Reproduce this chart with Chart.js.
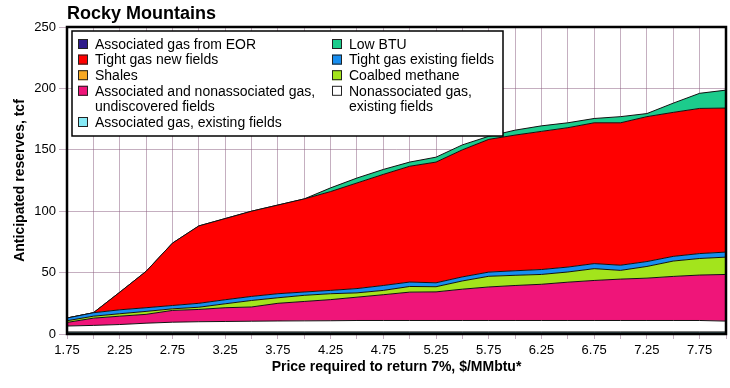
<!DOCTYPE html>
<html>
<head>
<meta charset="utf-8">
<script src="https://cdn.jsdelivr.net/npm/chart.js@4"></script>
<style>
  html, body { margin: 0; padding: 0; background: #fff; }
</style>
</head>
<body>
<canvas id="myChart" width="730" height="388"></canvas>
<script>
// price required to return 7%, $/MMbtu
const prices = [1.75, 2.00, 2.25, 2.50, 2.75, 3.00, 3.25, 3.50, 3.75, 4.00, 4.25, 4.50, 4.75,
                5.00, 5.25, 5.50, 5.75, 6.00, 6.25, 6.50, 6.75, 7.00, 7.25, 7.50, 7.75, 8.00];

// anticipated reserves (tcf) per source, listed bottom of the stack to top
const eor              = [0.5, 0.5, 0.5, 0.5, 0.5, 0.5, 0.5, 0.5, 0.5, 0.5, 0.5, 0.5, 0.5, 0.5, 0.5, 0.5, 0.5, 0.5, 0.5, 0.5, 0.5, 0.5, 0.5, 0.5, 0.5, 0.5];
const assocExisting    = [1.0, 1.0, 1.0, 1.0, 1.0, 1.0, 1.0, 1.0, 1.0, 1.0, 1.0, 1.0, 1.0, 1.0, 1.0, 1.0, 1.0, 1.0, 1.0, 1.0, 1.0, 1.0, 1.0, 1.0, 1.0, 1.0];
const shales           = [0, 0, 0, 0, 0, 0, 0, 0, 0, 0, 0, 0, 0, 0, 0, 0, 0, 0, 0, 0, 0, 0, 0, 0, 0, 0];
const nonassocExisting = [5.0, 5.5, 6.2, 7.3, 8.1, 8.5, 8.7, 8.9, 9.1, 9.2, 9.3, 9.5, 9.5, 9.5, 9.5, 9.5, 9.5, 9.5, 9.5, 9.5, 9.5, 9.5, 9.5, 9.5, 9.5, 9.0];
const undiscovered     = [2.9, 5.9, 6.8, 7.2, 9.6, 10.0, 11.2, 11.6, 14.4, 15.8, 17.2, 19.0, 21.0, 23.1, 23.3, 25.5, 27.3, 28.5, 29.5, 31.2, 32.6, 33.7, 34.5, 35.9, 37.0, 38.0];
const coalbed          = [1.4, 1.6, 2.0, 2.4, 1.3, 1.8, 3.2, 5.3, 4.5, 5.0, 4.8, 3.5, 3.5, 4.6, 4.2, 6.7, 8.7, 8.3, 8.0, 8.3, 9.6, 7.1, 9.5, 12.5, 13.5, 14.1];
const tightExisting    = [2.2, 2.8, 3.2, 3.0, 2.7, 3.2, 3.3, 3.3, 3.3, 2.7, 2.7, 3.5, 4.0, 3.6, 3.2, 3.3, 3.4, 3.7, 4.0, 4.0, 4.1, 4.2, 4.0, 3.8, 4.0, 4.1];
const tightNew         = [0, 0, 14.3, 29.6, 50.8, 63.0, 66.1, 69.4, 72.2, 75.8, 80.5, 86.0, 90.5, 94.3, 98.3, 103.5, 108.1, 110.5, 112.5, 113.5, 114.7, 116.0, 118.0, 117.3, 118.2, 117.3];
const lowBtu           = [0, 0, 0, 0, 0, 0, 0, 0, 0, 0, 3.0, 4.0, 4.0, 3.4, 4.0, 4.0, 2.5, 4.0, 4.5, 4.0, 3.5, 5.0, 2.5, 7.5, 12.3, 14.6];

const yTicks = [0, 50, 100, 150, 200, 250];

const series = [
    { label: 'Associated gas from EOR', data: eor, color: '#2f1c8a' },
    { label: 'Associated gas, existing fields', data: assocExisting, color: '#86eaf6' },
    { label: 'Shales', data: shales, color: '#f7a823' },
    { label: 'Nonassociated gas,\nexisting fields', data: nonassocExisting, color: '#ffffff' },
    { label: 'Associated and nonassociated gas,\nundiscovered fields', data: undiscovered, color: '#ef1579' },
    { label: 'Coalbed methane', data: coalbed, color: '#a3e41c' },
    { label: 'Tight gas existing fields', data: tightExisting, color: '#178ef0' },
    { label: 'Tight gas new fields', data: tightNew, color: '#ff0000' },
    { label: 'Low BTU', data: lowBtu, color: '#1ccc8c' },
];

// legend layout as in the original: two columns
const legendCols = [
    ['Associated gas from EOR', 'Tight gas new fields', 'Shales',
     'Associated and nonassociated gas,\nundiscovered fields', 'Associated gas, existing fields'],
    ['Low BTU', 'Tight gas existing fields', 'Coalbed methane', 'Nonassociated gas,\nexisting fields'],
];

const FONT = '"Liberation Sans", Arial, Helvetica, sans-serif';
const gridColor = 'rgba(140, 95, 130, 0.5)';

const frameLegend = {
    id: 'frameLegend',
    afterDatasetsDraw(chart) {
        const { ctx, chartArea: a } = chart;
        ctx.save();
        ctx.strokeStyle = '#000';
        ctx.lineWidth = 2.5;
        ctx.strokeRect(a.left, a.top, a.right - a.left, a.bottom - a.top);
        ctx.restore();
    },
    afterDraw(chart) {
        const { ctx, chartArea: a } = chart;
        ctx.save();

        // title
        ctx.fillStyle = '#000';
        ctx.font = 'bold 18px ' + FONT;
        ctx.textBaseline = 'alphabetic';
        ctx.fillText('Rocky Mountains', a.left, 19);

        // legend box
        const bx = a.left + 5, by = a.top + 4;
        ctx.fillStyle = '#fff';
        ctx.fillRect(bx, by, 431, 105);
        ctx.strokeStyle = '#000';
        ctx.lineWidth = 1.5;
        ctx.strokeRect(bx, by, 431, 105);

        ctx.font = '14px ' + FONT;
        ctx.textBaseline = 'middle';
        const colX = [a.left + 11, a.left + 265];
        const rowH = 15.6;
        legendCols.forEach((col, c) => {
            let y = a.top + 17;
            col.forEach(name => {
                const s = series.find(d => d.label === name);
                ctx.fillStyle = s.color;
                ctx.fillRect(colX[c], y - 5, 10, 10);
                ctx.strokeStyle = '#222';
                ctx.lineWidth = 1;
                ctx.strokeRect(colX[c] + 0.5, y - 4.5, 9, 9);
                ctx.fillStyle = '#000';
                name.split('\n').forEach(line => {
                    ctx.fillText(line, colX[c] + 17, y + 1);
                    y += rowH;
                });
            });
        });
        ctx.restore();
    }
};

new Chart('myChart', {
    type: 'line',
    data: {
        labels: prices,
        datasets: series.map((s, i) => ({
            label: s.label,
            data: s.data.map((v, j) => ({ x: prices[j], y: v })),
            backgroundColor: s.color,
            borderColor: '#111',
            borderWidth: 1,
            pointRadius: 0,
            tension: 0,
            fill: i === 0 ? 'origin' : '-1',
        })),
    },
    options: {
        responsive: false,
        animation: false,
        layout: { padding: { top: 27, right: 4, left: 0, bottom: 0 } },
        plugins: {
            legend: { display: false },
            title: { display: false },
            tooltip: { enabled: false },
        },
        scales: {
            x: {
                type: 'linear',
                min: 1.75,
                max: 8.0,
                ticks: {
                    stepSize: 0.25,
                    autoSkip: false,
                    maxRotation: 0,
                    color: '#000',
                    font: { family: FONT, size: 13 },
                    padding: 4,
                    callback: (v, i) => (i % 2 === 0 ? Number(v).toFixed(2) : ''),
                },
                grid: { color: gridColor, tickLength: 5 },
                border: { display: false },
                title: {
                    display: true,
                    text: 'Price required to return 7%, $/MMbtu*',
                    color: '#000',
                    font: { family: FONT, size: 14, weight: 'bold' },
                    padding: { top: 0, bottom: 12 },
                },
                afterFit(scale) { scale.height = 54; },
            },
            y: {
                stacked: true,
                min: yTicks[0],
                max: yTicks[yTicks.length - 1],
                ticks: {
                    stepSize: 50,
                    color: '#000',
                    font: { family: FONT, size: 13 },
                    padding: 3,
                },
                grid: { color: gridColor, tickLength: 8 },
                border: { display: false },
                title: {
                    display: true,
                    text: 'Anticipated reserves, tcf',
                    color: '#000',
                    font: { family: FONT, size: 14, weight: 'bold' },
                    padding: { top: 12, bottom: 0 },
                },
                afterFit(scale) { scale.width = 67; },
            },
        },
    },
    plugins: [frameLegend],
});
</script>
</body>
</html>
